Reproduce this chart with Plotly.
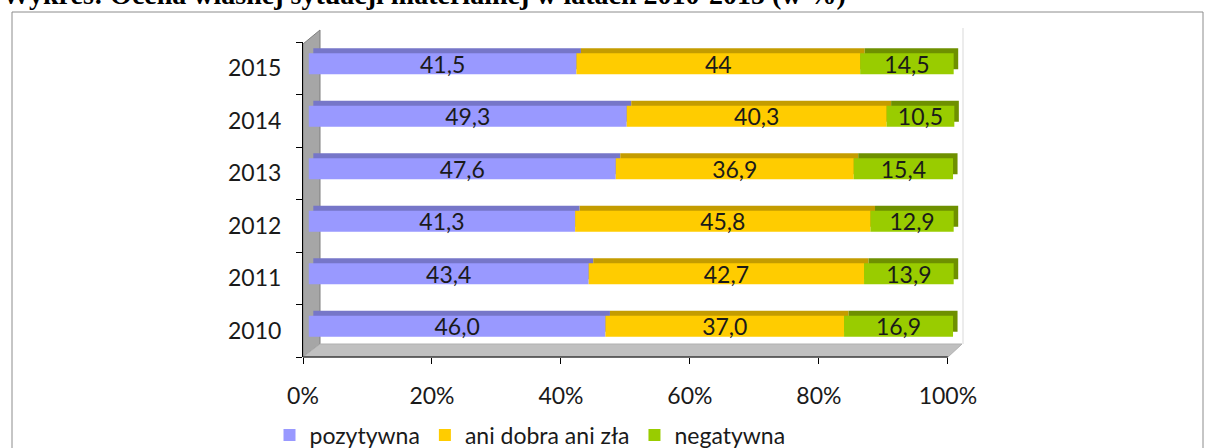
import plotly.graph_objects as go

# ---------------- data ----------------
years = ["2010", "2011", "2012", "2013", "2014", "2015"]
pozytywna = [46.0, 43.4, 41.3, 47.6, 49.3, 41.5]
ani_dobra_ani_zla = [37.0, 42.7, 45.8, 36.9, 40.3, 44.0]
negatywna = [16.9, 13.9, 12.9, 15.4, 10.5, 14.5]
pozytywna_lbl = ["46,0", "43,4", "41,3", "47,6", "49,3", "41,5"]
ani_lbl = ["37,0", "42,7", "45,8", "36,9", "40,3", "44"]
negatywna_lbl = ["16,9", "13,9", "12,9", "15,4", "10,5", "14,5"]
series_names = ["pozytywna", "ani dobra ani zła", "negatywna"]
x_ticks = [0, 20, 40, 60, 80, 100]
title_text = "Wykres: Ocena własnej sytuacji materialnej w latach 2010-2015 (w %)"

# ---------------- style ----------------
W, H = 1206, 448
X_MAX = 102.5                  # axis extends a bit past 100 so bar depth is not clipped
AX0, AX100 = 303, 948          # pixel of 0% and 100%
L = AX0
PW = round((AX100 - AX0) * X_MAX / 100)
R = W - L - PW
T, B = 42, 91
PH = H - T - B
FONT = "Lato"
FS = 23
front_cols = ["#9999FF", "#FFCC00", "#99CC00"]
top_cols = ["#7676C8", "#C49C00", "#6E9000"]
DEPTH_X = 0.9      # shift of bar front (in % units)
BACK_X = 0.7       # extra shift of back face
FRONT_W = 0.40
FRONT_OFF = -0.115
BACK_OFF_SHIFT = 0.095


def px(x):
    return (x - L) / PW


def py(y):
    return (T + PH - y) / PH


series = [pozytywna, ani_dobra_ani_zla, negatywna]
labels = [pozytywna_lbl, ani_lbl, negatywna_lbl]

starts = []
acc = [0.0] * len(years)
for s in series:
    starts.append(list(acc))
    acc = [a + v for a, v in zip(acc, s)]

fig = go.Figure()

# back (top / side) faces
for i, s in enumerate(series):
    fig.add_trace(go.Bar(
        y=years, x=s, base=[b + DEPTH_X + BACK_X for b in starts[i]],
        orientation="h", width=FRONT_W, offset=FRONT_OFF + BACK_OFF_SHIFT,
        marker=dict(color=top_cols[i], line=dict(width=0)),
        showlegend=False, hoverinfo="skip",
    ))

# front faces
for i, s in enumerate(series):
    fig.add_trace(go.Bar(
        y=years, x=s, base=[b + DEPTH_X for b in starts[i]],
        orientation="h", width=FRONT_W, offset=FRONT_OFF,
        name=series_names[i],
        marker=dict(color=front_cols[i], line=dict(width=0)),
        text=labels[i], textposition="inside", insidetextanchor="middle",
        constraintext="none", textangle=0,
        textfont=dict(family=FONT, size=FS, color="#1a1a1a"),
    ))

shapes = [
    # outer border
    dict(type="rect", xref="paper", yref="paper",
         x0=px(12), x1=px(1203), y0=py(470), y1=py(12),
         line=dict(color="#8c8c8c", width=1), fillcolor="rgba(0,0,0,0)", layer="below"),
    # side wall
    dict(type="path", xref="paper", yref="paper",
         path=f"M{px(303)},{py(357)} L{px(303)},{py(44)} L{px(320)},{py(30)} L{px(320)},{py(344)} Z",
         fillcolor="#A6A6A6", line=dict(color="#7f7f7f", width=1), layer="below"),
    # floor
    dict(type="path", xref="paper", yref="paper",
         path=f"M{px(303)},{py(357)} L{px(320)},{py(344)} L{px(962)},{py(344)} L{px(948)},{py(357)} Z",
         fillcolor="#C0C0C0", line=dict(color="#b0b0b0", width=1), layer="below"),
    # back wall right edge
    dict(type="line", xref="paper", yref="paper",
         x0=px(963), x1=px(963), y0=py(344), y1=py(28),
         line=dict(color="#D9D9D9", width=1), layer="below"),
    # x axis line (0% .. 100%)
    dict(type="line", xref="x", yref="paper", x0=0, x1=100, y0=0, y1=0,
         line=dict(color="black", width=1), layer="above"),
]

fig.update_layout(
    width=W, height=H,
    margin=dict(l=L, r=R, t=T, b=B, autoexpand=False),
    paper_bgcolor="white", plot_bgcolor="rgba(0,0,0,0)",
    barmode="overlay",
    font=dict(family=FONT, size=FS, color="#1a1a1a"),
    shapes=shapes,
    showlegend=True,
    legend=dict(orientation="h", x=px(530), xanchor="center", y=py(435), yanchor="middle",
                font=dict(family=FONT, size=FS, color="#1a1a1a"),
                bgcolor="rgba(0,0,0,0)", itemwidth=30, tracegroupgap=0),
    annotations=[dict(
        text=f"<b>{title_text}</b>", xref="paper", yref="paper",
        x=px(0), xanchor="left", y=py(12), yanchor="bottom", showarrow=False,
        font=dict(family="Liberation Serif", size=28, color="black"),
    )],
)

fig.update_xaxes(
    range=[0, X_MAX], tickvals=x_ticks, ticktext=[f"{v}%" for v in x_ticks],
    showgrid=False, zeroline=False, showline=False,
    ticks="outside", ticklen=6, tickcolor="black", ticklabelstandoff=12,
    tickfont=dict(family=FONT, size=FS, color="#1a1a1a"), fixedrange=True,
)
fig.update_yaxes(
    type="category", categoryorder="array", categoryarray=years, range=[-0.5, 5.5],
    showgrid=False, zeroline=False, showline=True, linecolor="black", linewidth=1,
    ticks="outside", ticklen=6, tickcolor="black", tickson="boundaries",
    ticklabelstandoff=16,
    tickfont=dict(family=FONT, size=FS, color="#1a1a1a"), fixedrange=True,
)

fig.write_html(
    "out.html",
    config={"displayModeBar": False},
    post_script="document.body.style.margin='0';document.body.style.overflow='hidden';",
)
